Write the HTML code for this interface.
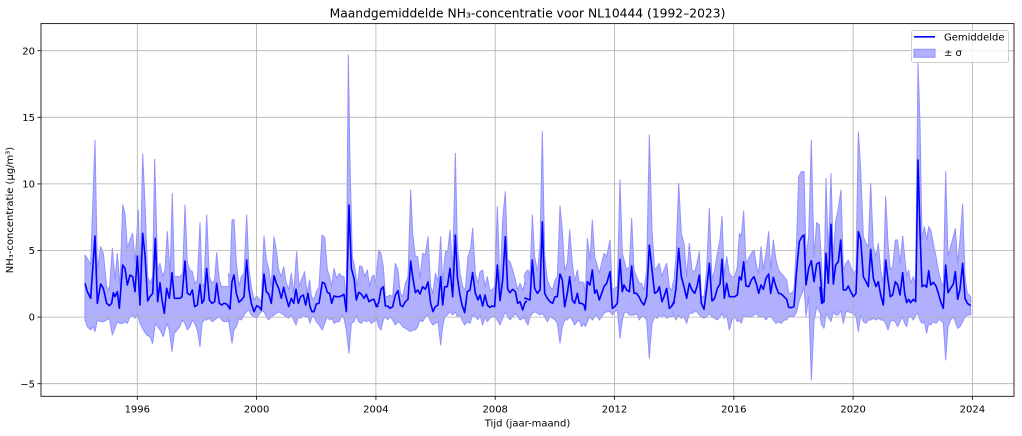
<!DOCTYPE html>
<html>
<head>
<meta charset="utf-8">
<style>
  html,body{margin:0;padding:0;background:#fff;}
  svg{display:block;}
  text{font-family:"DejaVu Sans","Liberation Sans",sans-serif;fill:#000;}
</style>
</head>
<body>
<svg width="1022" height="436" viewBox="0 0 1022 436" xmlns="http://www.w3.org/2000/svg">
  <defs>
    <clipPath id="pa"><rect x="41" y="23.5" width="973" height="372.8"/></clipPath>
  </defs>
  <rect x="0" y="0" width="1022" height="436" fill="#fff"/>

  <!-- band fill + edges -->
  <g clip-path="url(#pa)">
    <g fill="rgb(176,176,255)" stroke="none">
      <g transform="translate(80 130) scale(0.333333)">
        <polygon points="15,375 22,385 32,405 45,30 52,420 62,350 70,370 80,470 88,480 97,355 105,450 112,370 120,470 128,225 135,250 142,355 150,330 158,310 165,400 175,240 180,460 188,72 195,220 203,440 210,460 218,440 224,88 233,420 240,400 248,440 255,420 262,305 270,440 277,190 283,440 300,440 308,430 315,225 322,400 330,420 337,425 344,460 352,450 360,278 366,460 372,470 380,255 388,440 396,460 404,450 410,368 418,450 425,470 432,470 440,470 452,470 452,570 440,575 432,575 425,570 418,560 410,565 404,570 396,575 388,565 380,570 372,570 366,580 360,650 352,600 344,580 337,570 330,590 322,600 315,580 306,570 300,590 283,610 276,665 268,600 260,580 250,620 240,600 233,590 226,580 218,640 210,620 200,615 190,600 180,580 172,550 165,565 158,555 150,560 142,580 135,575 128,580 120,580 112,575 105,595 97,615 88,565 80,570 70,575 62,575 52,570 45,605 40,590 32,600 22,590 15,570"/>
      </g>
      <g transform="translate(228 130) scale(0.333333)">
        <polygon points="0,430 6,440 12,270 18,268 25,400 33,470 40,440 48,430 56,255 63,420 70,470 78,510 86,498 92,505 100,515 108,318 115,390 122,415 130,470 138,320 145,360 152,420 160,440 167,410 174,455 182,480 190,430 197,490 206,365 213,470 222,445 230,425 237,490 245,450 250,500 258,510 265,485 273,470 282,315 290,322 298,420 305,440 311,470 318,415 326,445 334,430 342,440 348,440 355,510 361,-225 366,100 373,380 380,410 388,470 395,407 402,410 410,440 418,420 425,470 432,440 438,435 445,470 452,470 452,560 445,565 438,575 430,580 423,570 415,575 408,570 400,580 392,575 385,555 378,575 370,580 363,670 355,600 348,565 342,555 334,575 326,575 318,580 311,565 305,570 298,560 290,580 283,600 273,585 265,575 258,560 252,560 246,580 240,560 233,560 226,555 218,565 211,560 204,585 197,570 190,555 182,565 174,560 167,555 160,550 152,545 145,550 138,555 130,560 122,570 115,560 108,545 100,545 92,555 86,565 78,560 70,555 63,540 56,545 48,555 40,570 33,565 25,590 18,600 12,640 6,600 0,560"/>
      </g>
      <g transform="translate(376 130) scale(0.333333)">
        <polygon points="0,450 8,360 15,370 22,410 28,500 35,500 42,495 50,500 58,400 66,420 73,490 80,500 88,460 96,440 104,180 110,310 118,380 125,380 132,445 140,370 148,375 156,320 164,470 171,490 178,430 186,455 194,320 200,460 208,365 215,365 222,300 230,430 238,70 244,340 252,430 260,470 268,480 276,380 284,355 290,295 298,430 306,460 312,425 320,420 327,470 334,440 341,480 348,480 356,470 364,230 372,480 380,270 388,185 395,390 402,395 410,420 418,450 425,480 432,460 440,480 446,460 452,460 452,560 446,565 440,565 432,570 425,560 418,550 410,560 402,570 395,560 388,545 380,565 372,585 364,570 356,560 348,560 341,565 334,575 327,560 320,585 312,555 306,570 298,560 290,555 282,580 274,575 266,585 258,570 251,555 244,560 238,545 230,555 222,545 214,555 206,560 200,590 194,645 186,575 178,580 171,585 164,575 156,555 148,560 140,575 132,570 125,590 118,600 110,600 104,605 96,600 88,595 80,590 73,580 66,575 58,585 50,570 42,560 35,570 28,560 22,570 15,600 8,590 0,560"/>
      </g>
      <g transform="translate(524 130) scale(0.333333)">
        <polygon points="0,440 6,425 12,420 18,440 25,255 32,380 40,425 48,350 55,5 62,380 70,450 78,470 86,480 93,450 100,440 108,228 115,300 122,420 130,400 137,300 145,400 152,455 160,420 166,460 173,455 180,460 184,500 190,325 198,390 205,270 212,380 218,400 226,430 233,400 240,370 248,380 258,330 265,480 272,475 280,470 288,150 295,370 300,390 308,420 316,410 323,265 330,420 338,440 346,460 352,460 360,480 368,420 376,15 384,300 392,420 400,410 406,400 414,440 420,420 428,400 436,470 442,480 452,470 452,555 442,560 436,560 428,565 420,555 414,560 406,555 400,565 392,560 384,580 376,685 368,570 360,560 352,560 346,570 338,550 330,555 323,555 316,555 308,545 300,550 295,570 288,625 280,540 272,545 265,555 258,545 248,545 240,550 233,560 226,570 218,555 212,560 205,570 198,560 190,575 184,590 180,580 173,590 166,570 160,575 152,585 145,570 137,560 130,570 122,570 115,590 108,640 100,580 93,570 86,565 78,560 70,575 62,560 55,550 48,555 40,550 32,545 25,550 18,560 12,585 6,575 0,555"/>
      </g>
      <g transform="translate(672 130) scale(0.333333)">
        <polygon points="0,470 6,450 12,380 20,160 28,310 36,340 44,440 52,340 60,420 68,425 75,400 82,365 88,500 96,500 104,420 112,235 120,450 128,420 136,370 144,330 150,258 157,440 164,380 172,430 180,440 188,440 196,410 202,310 208,320 215,243 222,400 230,385 238,370 246,360 254,410 260,430 267,350 274,420 282,370 290,305 296,420 304,330 312,390 320,420 328,430 336,440 344,450 350,490 358,490 366,480 374,330 380,140 388,125 396,125 402,380 410,320 418,30 426,380 434,278 442,285 452,470 452,560 442,545 434,530 426,575 418,750 410,500 402,560 396,470 390,490 382,510 374,545 366,560 358,560 350,560 344,570 336,570 328,580 320,575 312,580 304,570 296,560 290,560 282,570 274,560 267,560 260,560 254,550 246,555 238,560 230,560 222,560 215,555 208,580 202,570 196,575 188,560 180,570 172,600 164,555 157,565 150,550 144,560 136,570 128,565 120,560 112,550 104,560 96,565 88,560 82,555 75,545 68,545 60,550 52,550 44,580 36,560 28,565 20,555 12,570 6,555 0,545"/>
      </g>
      <g transform="translate(820 130) scale(0.333333)">
        <polygon points="0,420 5,480 12,475 18,145 25,380 33,130 40,390 47,275 55,235 63,180 70,420 78,400 85,390 92,410 100,430 108,420 115,5 122,120 130,320 138,340 145,350 152,160 160,350 168,380 175,340 182,420 190,460 197,200 204,340 211,420 218,410 226,330 233,330 240,400 248,318 254,380 260,440 266,420 272,460 280,440 287,470 294,-200 300,-20 306,330 313,290 320,330 326,290 332,300 340,340 348,380 355,420 362,450 370,470 377,125 384,380 392,350 400,320 406,295 413,400 420,330 428,222 435,440 442,490 452,500 452,555 442,555 435,560 428,575 420,590 413,595 406,575 400,560 392,570 384,590 377,690 370,580 362,570 355,570 348,580 340,575 332,585 326,580 320,610 313,575 306,580 300,570 294,550 287,555 280,570 272,560 266,560 260,590 254,580 248,560 240,575 233,590 226,575 218,570 211,575 204,600 197,580 190,570 182,570 175,565 168,570 160,565 152,570 145,570 138,580 130,575 122,555 115,605 108,560 100,550 92,548 85,545 78,545 70,580 62,540 55,555 47,555 40,545 33,575 25,560 18,550 12,595 5,585 0,560"/>
      </g>
    </g>

    <g fill="none" stroke="rgb(145,145,255)" stroke-width="1" stroke-linejoin="round">
      <g transform="translate(80 130) scale(0.333333)">
        <polyline vector-effect="non-scaling-stroke" points="15,570 15,375 22,385 32,405 45,30 52,420 62,350 70,370 80,470 88,480 97,355 105,450 112,370 120,470 128,225 135,250 142,355 150,330 158,310 165,400 175,240 180,460 188,72 195,220 203,440 210,460 218,440 224,88 233,420 240,400 248,440 255,420 262,305 270,440 277,190 283,440 300,440 308,430 315,225 322,400 330,420 337,425 344,460 352,450 360,278 366,460 372,470 380,255 388,440 396,460 404,450 410,368 418,450 425,470 432,470 440,470 452,470"/>
        <polyline vector-effect="non-scaling-stroke" points="452,570 440,575 432,575 425,570 418,560 410,565 404,570 396,575 388,565 380,570 372,570 366,580 360,650 352,600 344,580 337,570 330,590 322,600 315,580 306,570 300,590 283,610 276,665 268,600 260,580 250,620 240,600 233,590 226,580 218,640 210,620 200,615 190,600 180,580 172,550 165,565 158,555 150,560 142,580 135,575 128,580 120,580 112,575 105,595 97,615 88,565 80,570 70,575 62,575 52,570 45,605 40,590 32,600 22,590 15,570"/>
      </g>
      <g transform="translate(228 130) scale(0.333333)">
        <polyline vector-effect="non-scaling-stroke" points="0,430 6,440 12,270 18,268 25,400 33,470 40,440 48,430 56,255 63,420 70,470 78,510 86,498 92,505 100,515 108,318 115,390 122,415 130,470 138,320 145,360 152,420 160,440 167,410 174,455 182,480 190,430 197,490 206,365 213,470 222,445 230,425 237,490 245,450 250,500 258,510 265,485 273,470 282,315 290,322 298,420 305,440 311,470 318,415 326,445 334,430 342,440 348,440 355,510 361,-225 366,100 373,380 380,410 388,470 395,407 402,410 410,440 418,420 425,470 432,440 438,435 445,470 452,470"/>
        <polyline vector-effect="non-scaling-stroke" points="452,560 445,565 438,575 430,580 423,570 415,575 408,570 400,580 392,575 385,555 378,575 370,580 363,670 355,600 348,565 342,555 334,575 326,575 318,580 311,565 305,570 298,560 290,580 283,600 273,585 265,575 258,560 252,560 246,580 240,560 233,560 226,555 218,565 211,560 204,585 197,570 190,555 182,565 174,560 167,555 160,550 152,545 145,550 138,555 130,560 122,570 115,560 108,545 100,545 92,555 86,565 78,560 70,555 63,540 56,545 48,555 40,570 33,565 25,590 18,600 12,640 6,600 0,560"/>
      </g>
      <g transform="translate(376 130) scale(0.333333)">
        <polyline vector-effect="non-scaling-stroke" points="0,450 8,360 15,370 22,410 28,500 35,500 42,495 50,500 58,400 66,420 73,490 80,500 88,460 96,440 104,180 110,310 118,380 125,380 132,445 140,370 148,375 156,320 164,470 171,490 178,430 186,455 194,320 200,460 208,365 215,365 222,300 230,430 238,70 244,340 252,430 260,470 268,480 276,380 284,355 290,295 298,430 306,460 312,425 320,420 327,470 334,440 341,480 348,480 356,470 364,230 372,480 380,270 388,185 395,390 402,395 410,420 418,450 425,480 432,460 440,480 446,460 452,460"/>
        <polyline vector-effect="non-scaling-stroke" points="452,560 446,565 440,565 432,570 425,560 418,550 410,560 402,570 395,560 388,545 380,565 372,585 364,570 356,560 348,560 341,565 334,575 327,560 320,585 312,555 306,570 298,560 290,555 282,580 274,575 266,585 258,570 251,555 244,560 238,545 230,555 222,545 214,555 206,560 200,590 194,645 186,575 178,580 171,585 164,575 156,555 148,560 140,575 132,570 125,590 118,600 110,600 104,605 96,600 88,595 80,590 73,580 66,575 58,585 50,570 42,560 35,570 28,560 22,570 15,600 8,590 0,560"/>
      </g>
      <g transform="translate(524 130) scale(0.333333)">
        <polyline vector-effect="non-scaling-stroke" points="0,440 6,425 12,420 18,440 25,255 32,380 40,425 48,350 55,5 62,380 70,450 78,470 86,480 93,450 100,440 108,228 115,300 122,420 130,400 137,300 145,400 152,455 160,420 166,460 173,455 180,460 184,500 190,325 198,390 205,270 212,380 218,400 226,430 233,400 240,370 248,380 258,330 265,480 272,475 280,470 288,150 295,370 300,390 308,420 316,410 323,265 330,420 338,440 346,460 352,460 360,480 368,420 376,15 384,300 392,420 400,410 406,400 414,440 420,420 428,400 436,470 442,480 452,470"/>
        <polyline vector-effect="non-scaling-stroke" points="452,555 442,560 436,560 428,565 420,555 414,560 406,555 400,565 392,560 384,580 376,685 368,570 360,560 352,560 346,570 338,550 330,555 323,555 316,555 308,545 300,550 295,570 288,625 280,540 272,545 265,555 258,545 248,545 240,550 233,560 226,570 218,555 212,560 205,570 198,560 190,575 184,590 180,580 173,590 166,570 160,575 152,585 145,570 137,560 130,570 122,570 115,590 108,640 100,580 93,570 86,565 78,560 70,575 62,560 55,550 48,555 40,550 32,545 25,550 18,560 12,585 6,575 0,555"/>
      </g>
      <g transform="translate(672 130) scale(0.333333)">
        <polyline vector-effect="non-scaling-stroke" points="0,470 6,450 12,380 20,160 28,310 36,340 44,440 52,340 60,420 68,425 75,400 82,365 88,500 96,500 104,420 112,235 120,450 128,420 136,370 144,330 150,258 157,440 164,380 172,430 180,440 188,440 196,410 202,310 208,320 215,243 222,400 230,385 238,370 246,360 254,410 260,430 267,350 274,420 282,370 290,305 296,420 304,330 312,390 320,420 328,430 336,440 344,450 350,490 358,490 366,480 374,330 380,140 388,125 396,125 402,380 410,320 418,30 426,380 434,278 442,285 452,470"/>
        <polyline vector-effect="non-scaling-stroke" points="452,560 442,545 434,530 426,575 418,750 410,500 402,560 396,470 390,490 382,510 374,545 366,560 358,560 350,560 344,570 336,570 328,580 320,575 312,580 304,570 296,560 290,560 282,570 274,560 267,560 260,560 254,550 246,555 238,560 230,560 222,560 215,555 208,580 202,570 196,575 188,560 180,570 172,600 164,555 157,565 150,550 144,560 136,570 128,565 120,560 112,550 104,560 96,565 88,560 82,555 75,545 68,545 60,550 52,550 44,580 36,560 28,565 20,555 12,570 6,555 0,545"/>
      </g>
      <g transform="translate(820 130) scale(0.333333)">
        <polyline vector-effect="non-scaling-stroke" points="0,420 5,480 12,475 18,145 25,380 33,130 40,390 47,275 55,235 63,180 70,420 78,400 85,390 92,410 100,430 108,420 115,5 122,120 130,320 138,340 145,350 152,160 160,350 168,380 175,340 182,420 190,460 197,200 204,340 211,420 218,410 226,330 233,330 240,400 248,318 254,380 260,440 266,420 272,460 280,440 287,470 294,-200 300,-20 306,330 313,290 320,330 326,290 332,300 340,340 348,380 355,420 362,450 370,470 377,125 384,380 392,350 400,320 406,295 413,400 420,330 428,222 435,440 442,490 452,500 452,555"/>
        <polyline vector-effect="non-scaling-stroke" points="452,555 442,555 435,560 428,575 420,590 413,595 406,575 400,560 392,570 384,590 377,690 370,580 362,570 355,570 348,580 340,575 332,585 326,580 320,610 313,575 306,580 300,570 294,550 287,555 280,570 272,560 266,560 260,590 254,580 248,560 240,575 233,590 226,575 218,570 211,575 204,600 197,580 190,570 182,570 175,565 168,570 160,565 152,570 145,570 138,580 130,575 122,555 115,605 108,560 100,550 92,548 85,545 78,545 70,580 62,540 55,555 47,555 40,545 33,575 25,560 18,550 12,595 5,585 0,560"/>
      </g>
    </g>
  </g>

  <!-- grid (above band, below line) -->
  <g stroke="#b0b0b0" stroke-width="0.8">
    <line x1="41" y1="383.7" x2="1014" y2="383.7"/>
    <line x1="41" y1="317.1" x2="1014" y2="317.1"/>
    <line x1="41" y1="250.5" x2="1014" y2="250.5"/>
    <line x1="41" y1="183.9" x2="1014" y2="183.9"/>
    <line x1="41" y1="117.3" x2="1014" y2="117.3"/>
    <line x1="41" y1="50.7" x2="1014" y2="50.7"/>
    <line x1="137.3" y1="23.5" x2="137.3" y2="396.3"/>
    <line x1="256.6" y1="23.5" x2="256.6" y2="396.3"/>
    <line x1="375.9" y1="23.5" x2="375.9" y2="396.3"/>
    <line x1="495.2" y1="23.5" x2="495.2" y2="396.3"/>
    <line x1="614.5" y1="23.5" x2="614.5" y2="396.3"/>
    <line x1="733.8" y1="23.5" x2="733.8" y2="396.3"/>
    <line x1="853.1" y1="23.5" x2="853.1" y2="396.3"/>
    <line x1="972.4" y1="23.5" x2="972.4" y2="396.3"/>
  </g>

  <!-- mean line -->
  <g clip-path="url(#pa)">
    <g fill="none" stroke="#0000ff" stroke-width="1.6" stroke-linejoin="round" stroke-linecap="butt">
      <g transform="translate(80 130) scale(0.333333)">
        <polyline vector-effect="non-scaling-stroke" points="15,460 22,485 32,505 45,318 52,520 62,462 70,475 80,520 88,527 95,520 100,488 105,500 112,485 118,535 128,405 135,415 142,465 150,435 158,440 165,485 172,378 180,525 188,310 195,375 203,513 210,500 218,490 226,325 233,515 240,458 246,510 253,550 260,475 268,505 276,428 283,505 300,505 306,500 315,393 322,490 330,495 337,480 344,530 352,525 360,463 366,520 372,510 380,415 388,510 396,520 404,515 410,460 418,520 425,525 432,520 440,522 452,537"/>
      </g>
      <g transform="translate(228 130) scale(0.333333)">
        <polyline vector-effect="non-scaling-stroke" points="0,528 6,537 12,455 18,435 25,490 33,517 40,510 48,500 56,390 63,480 70,520 78,545 86,527 92,530 100,540 108,432 115,485 122,492 130,520 138,437 145,460 152,475 160,505 167,472 174,500 182,530 190,505 197,520 204,478 211,520 218,500 226,495 233,525 240,490 246,530 252,545 258,545 265,522 273,520 283,457 290,460 298,487 305,490 311,520 318,498 326,500 334,500 342,497 348,493 355,545 363,225 370,415 378,445 385,510 392,487 400,492 408,505 415,493 423,515 430,510 438,508 445,530 452,528"/>
      </g>
      <g transform="translate(376 130) scale(0.333333)">
        <polyline vector-effect="non-scaling-stroke" points="0,528 8,518 15,478 22,470 28,528 35,528 42,535 50,530 58,495 66,482 73,525 80,530 88,515 96,508 104,393 110,440 118,488 125,480 132,492 140,470 148,478 156,456 164,520 171,545 178,530 186,525 194,440 200,525 206,470 214,470 222,415 230,500 238,315 244,440 251,490 258,525 266,548 274,485 282,480 290,428 298,490 306,510 312,495 320,528 327,495 334,525 341,532 348,528 356,530 364,405 372,512 380,450 388,320 395,478 402,488 410,478 418,485 425,520 432,515 440,540 446,520 452,512"/>
      </g>
      <g transform="translate(524 130) scale(0.333333)">
        <polyline vector-effect="non-scaling-stroke" points="0,505 6,505 12,508 18,510 25,390 32,475 40,490 48,480 55,275 62,490 70,505 78,515 86,520 93,500 100,500 108,432 115,450 122,530 130,490 137,440 145,510 152,520 160,490 166,520 173,520 180,525 184,540 190,455 198,465 205,420 212,490 218,480 226,510 233,490 240,470 248,460 258,425 265,535 272,530 280,520 288,388 295,485 300,465 308,480 316,485 323,408 330,490 338,490 346,502 352,515 360,525 368,500 376,345 384,420 392,490 400,485 406,470 414,515 420,500 428,475 436,535 442,530 452,515"/>
      </g>
      <g transform="translate(672 130) scale(0.333333)">
        <polyline vector-effect="non-scaling-stroke" points="0,525 6,515 12,475 20,355 28,440 36,470 44,505 52,460 60,480 68,490 75,470 82,435 88,520 96,538 104,475 112,400 120,513 128,505 136,475 144,462 150,388 157,505 164,460 172,500 180,500 188,500 196,495 202,440 208,450 215,395 222,468 230,470 238,450 246,440 254,465 260,490 267,465 274,478 282,445 290,432 296,490 304,442 312,470 320,490 328,492 336,500 344,508 350,532 358,533 366,530 374,420 382,335 390,320 396,315 402,465 410,415 418,392 426,455 434,402 442,397 452,520"/>
      </g>
      <g transform="translate(820 130) scale(0.333333)">
        <polyline vector-effect="non-scaling-stroke" points="0,470 5,520 12,515 18,370 25,460 33,283 40,462 47,405 55,395 62,330 70,480 78,480 85,468 92,485 100,500 108,490 115,305 122,328 130,440 138,455 145,470 152,358 160,445 168,470 175,455 182,495 190,525 197,390 204,450 211,500 218,495 226,455 233,465 240,495 248,428 254,490 260,518 266,508 272,518 280,508 287,515 294,90 300,305 306,470 313,465 320,472 326,422 332,465 340,457 348,468 355,490 362,515 370,535 377,405 384,488 392,475 400,462 406,425 413,508 420,478 428,400 435,505 442,520 452,527"/>
      </g>
    </g>
  </g>

  <!-- spines -->
  <rect x="41" y="23.6" width="973" height="372.7" fill="none" stroke="#111" stroke-width="0.9"/>

  <!-- ticks -->
  <g stroke="#111" stroke-width="0.9">
    <line x1="37.5" y1="383.7" x2="41" y2="383.7"/>
    <line x1="37.5" y1="317.1" x2="41" y2="317.1"/>
    <line x1="37.5" y1="250.5" x2="41" y2="250.5"/>
    <line x1="37.5" y1="183.9" x2="41" y2="183.9"/>
    <line x1="37.5" y1="117.3" x2="41" y2="117.3"/>
    <line x1="37.5" y1="50.7" x2="41" y2="50.7"/>
    <line x1="137.3" y1="396.3" x2="137.3" y2="399.8"/>
    <line x1="256.6" y1="396.3" x2="256.6" y2="399.8"/>
    <line x1="375.9" y1="396.3" x2="375.9" y2="399.8"/>
    <line x1="495.2" y1="396.3" x2="495.2" y2="399.8"/>
    <line x1="614.5" y1="396.3" x2="614.5" y2="399.8"/>
    <line x1="733.8" y1="396.3" x2="733.8" y2="399.8"/>
    <line x1="853.1" y1="396.3" x2="853.1" y2="399.8"/>
    <line x1="972.4" y1="396.3" x2="972.4" y2="399.8"/>
  </g>

  <!-- tick labels -->
  <g font-size="10" text-anchor="end">
    <text x="35" y="387.3">−5</text>
    <text x="35" y="320.7">0</text>
    <text x="35" y="254.1">5</text>
    <text x="35" y="187.5">10</text>
    <text x="35" y="120.9">15</text>
    <text x="35" y="54.3">20</text>
  </g>
  <g font-size="10" text-anchor="middle">
    <text x="137.3" y="412.3">1996</text>
    <text x="256.6" y="412.3">2000</text>
    <text x="375.9" y="412.3">2004</text>
    <text x="495.2" y="412.3">2008</text>
    <text x="614.5" y="412.3">2012</text>
    <text x="733.8" y="412.3">2016</text>
    <text x="853.1" y="412.3">2020</text>
    <text x="972.4" y="412.3">2024</text>
  </g>

  <!-- labels -->
  <text x="527.5" y="426.5" font-size="10" text-anchor="middle">Tijd (jaar-maand)</text>
  <text transform="translate(13 210) rotate(-90)" font-size="10" text-anchor="middle">NH₃-concentratie (µg/m³)</text>
  <text x="527.5" y="17.4" font-size="12.3" text-anchor="middle">Maandgemiddelde NH₃-concentratie voor NL10444 (1992–2023)</text>

  <!-- legend -->
  <rect x="911.5" y="30.5" width="97" height="32" rx="2" ry="2" fill="#ffffff" fill-opacity="0.8" stroke="#cccccc" stroke-width="0.9"/>
  <line x1="914" y1="36.8" x2="935" y2="36.8" stroke="#0000ff" stroke-width="1.6"/>
  <rect x="914" y="49.3" width="21" height="8" fill="rgb(176,176,255)" stroke="rgb(145,145,255)" stroke-width="1"/>
  <text x="944" y="40.5" font-size="10">Gemiddelde</text>
  <text x="944" y="56" font-size="10">± σ</text>
</svg>
</body>
</html>
